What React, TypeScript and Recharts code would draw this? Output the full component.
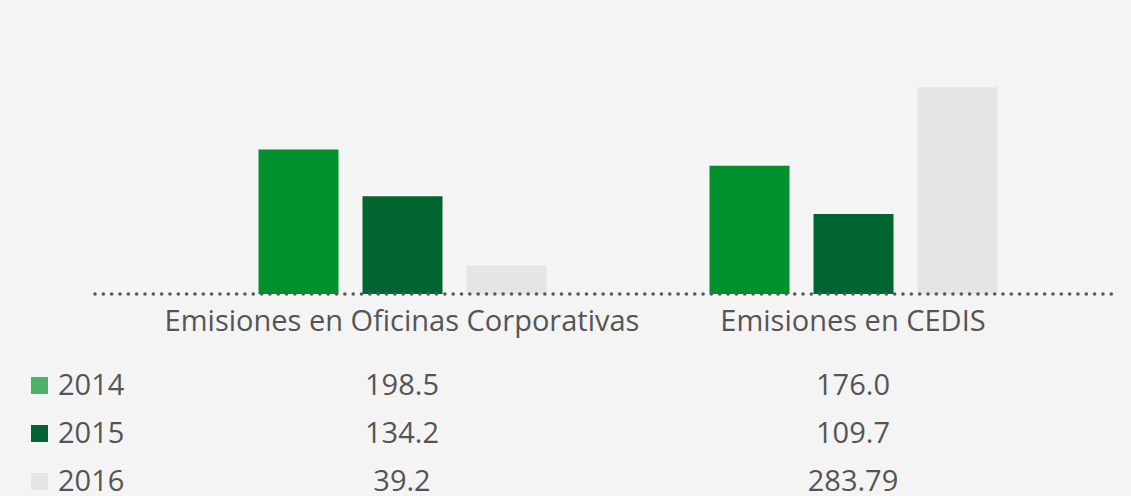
import { BarChart, Bar, XAxis, YAxis } from "recharts";

const categories = ["Emisiones en Oficinas Corporativas", "Emisiones en CEDIS"];
const years = ["2014", "2015", "2016"];
const values2014 = [198.5, 176.0];
const values2015 = [134.2, 109.7];
const values2016 = [39.2, 283.79];

const barColors = ["#00902c", "#006530", "#e5e5e5"];
const legendColors = ["#4db36b", "#006430", "#e6e6e6"];

const series = [values2014, values2015, values2016];
const data = categories.map((name, i) => ({
  name,
  y2014: values2014[i],
  y2015: values2015[i],
  y2016: values2016[i],
}));

const fmt = (v: number) =>
  Math.abs(v * 10 - Math.round(v * 10)) < 1e-6 ? v.toFixed(1) : v.toFixed(2);

const font = "'Open Sans', sans-serif";
const textColor = "#555555";
const columnX = [402, 853];

export default function App() {
  return (
    <div
      style={{
        position: "absolute",
        top: 0,
        left: 0,
        width: 1131,
        height: 496,
        background: "#f4f4f4",
        overflow: "hidden",
        fontFamily: font,
      }}
    >
      <BarChart
        width={1131}
        height={340}
        data={data}
        margin={{ top: 10, right: 16, left: 95, bottom: 6 }}
        barGap={24}
        barCategoryGap={81.5}
      >
        <YAxis hide domain={[0, 390]} />
        <XAxis
          dataKey="name"
          height={40}
          padding={{ left: 81.5, right: 36.5 }}
          tickLine={false}
          tickSize={0}
          tickMargin={16}
          tick={{ fontSize: 29, fill: textColor, fontFamily: font }}
          axisLine={{
            stroke: "#585858",
            strokeWidth: 3.6,
            strokeDasharray: "0 8.33",
            strokeLinecap: "round",
          }}
        />
        <Bar dataKey="y2014" fill={barColors[0]} barSize={80} isAnimationActive={false} />
        <Bar dataKey="y2015" fill={barColors[1]} barSize={80} isAnimationActive={false} />
        <Bar dataKey="y2016" fill={barColors[2]} barSize={80} isAnimationActive={false} />
      </BarChart>
      <svg
        width={1131}
        height={156}
        style={{ position: "absolute", left: 0, top: 340 }}
      >
        {years.map((year, r) => {
          const baseline = 55 + r * 48;
          return (
            <g key={year}>
              <rect x={31} y={baseline - 18} width={17} height={17} fill={legendColors[r]} />
              <text x={58} y={baseline} fontSize={29} fill={textColor} fontFamily={font}>
                {year}
              </text>
              {series[r].map((v, c) => (
                <text
                  key={c}
                  x={columnX[c]}
                  y={baseline}
                  fontSize={29}
                  fill={textColor}
                  fontFamily={font}
                  textAnchor="middle"
                >
                  {fmt(v)}
                </text>
              ))}
            </g>
          );
        })}
      </svg>
    </div>
  );
}
